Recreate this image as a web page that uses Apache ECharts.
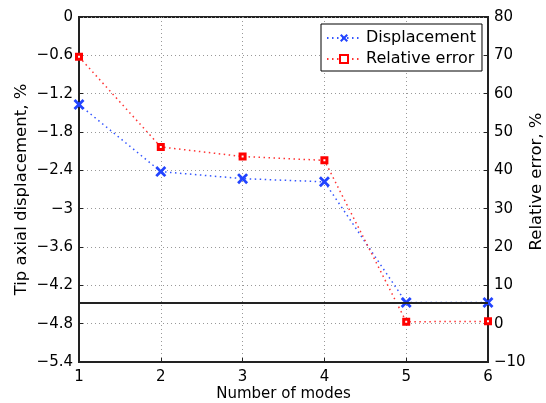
<!DOCTYPE html>
<html><head><meta charset="utf-8">
<script src="https://cdn.jsdelivr.net/npm/echarts@6/dist/echarts.min.js"></script>
<style>html,body{margin:0;padding:0;background:#fff}#c{width:546px;height:403px}</style>
</head><body><div id="c"></div>
<script>
const modes = [1, 2, 3, 4, 5, 6];
const displacement = [-1.37, -2.42, -2.53, -2.58, -4.47, -4.47];
const relativeError = [69.6, 46.1, 43.6, 42.6, 0.5, 0.6];
const referenceDisp = -4.48;
const leftTicks = {min: -5.4, max: 0, interval: 0.6};
const rightTicks = {min: -10, max: 80, interval: 10};

const FONT = 'DejaVu Sans';
const xPath = 'path://M0,1.8L1.8,0L5,3.2L8.2,0L10,1.8L6.8,5L10,8.2L8.2,10L5,6.8L1.8,10L0,8.2L3.2,5Z';
const fmt = v => {
  let s = (Math.round(v * 100) / 100).toString();
  return s.replace('-', '\u2212');
};
const chart = echarts.init(document.getElementById('c'), null, {renderer: 'canvas'});
const axisCommon = {
  axisLine: {show: true, onZero: false, lineStyle: {color: '#222', width: 2}},
  axisTick: {show: true, inside: true, length: 4, lineStyle: {color: '#222'}},
  axisLabel: {color: '#000', fontFamily: FONT, fontSize: 15, formatter: fmt},
  nameTextStyle: {color: '#000', fontFamily: FONT, fontSize: 15},
  nameMoveOverlap: false
};
chart.setOption({
  animation: false,
  backgroundColor: '#fff',
  grid: {left: 79, right: 58, top: 17, bottom: 41, containLabel: false, outerBoundsMode: 'none',
    show: true, borderColor: '#222', borderWidth: 2, backgroundColor: 'transparent'},
  legend: {
    left: 321, top: 24, width: 140, orient: 'vertical',
    backgroundColor: '#fff', borderColor: '#000', borderWidth: 1, borderRadius: 0,
    padding: [6, 6, 4, 5], itemGap: 5, itemWidth: 34, itemHeight: 10,
    textStyle: {fontFamily: FONT, fontSize: 16, color: '#000', padding: [0, 0, 0, 0]},
    data: ['Displacement', 'Relative error']
  },
  xAxis: Object.assign({}, axisCommon, {
    type: 'value', min: 1, max: 6, interval: 1,
    name: 'Number of modes', nameLocation: 'middle', nameGap: 25,
    axisLabel: Object.assign({}, axisCommon.axisLabel, {margin: 8}),
    splitLine: {show: true, lineStyle: {color: '#999', type: [1, 3], width: 1}}
  }),
  yAxis: [
    Object.assign({}, axisCommon, {
      type: 'value', min: leftTicks.min, max: leftTicks.max, interval: leftTicks.interval,
      name: 'Tip axial displacement, %', nameLocation: 'middle', nameGap: 49, nameRotate: 90,
      nameTextStyle: {color: '#000', fontFamily: FONT, fontSize: 16.5},
      axisLabel: Object.assign({}, axisCommon.axisLabel, {margin: 6}),
      splitLine: {show: true, lineStyle: {color: '#999', type: [1, 3], width: 1}}
    }),
    Object.assign({}, axisCommon, {
      type: 'value', position: 'right', min: rightTicks.min, max: rightTicks.max, interval: rightTicks.interval,
      name: 'Relative error, %', nameLocation: 'middle', nameGap: 40, nameRotate: 90,
      nameTextStyle: {color: '#000', fontFamily: FONT, fontSize: 16.5, padding: [0, 0, 0, 16]},
      axisLabel: Object.assign({}, axisCommon.axisLabel, {margin: 6}),
      splitLine: {show: false}
    })
  ],
  series: [
    {
      name: 'Displacement', type: 'line', yAxisIndex: 0,
      data: modes.map((m, i) => [m, displacement[i]]),
      symbol: xPath, symbolSize: 11, showAllSymbol: true,
      lineStyle: {color: '#3355ff', width: 1.5, type: [1.5, 3.5]},
      itemStyle: {color: '#2244ff'},
      markLine: {
        silent: true, symbol: 'none', label: {show: false},
        lineStyle: {color: '#222', width: 2, type: 'solid'},
        data: [{yAxis: referenceDisp}]
      },
      z: 3
    },
    {
      name: 'Relative error', type: 'line', yAxisIndex: 1,
      data: modes.map((m, i) => [m, relativeError[i]]),
      symbol: 'rect', symbolSize: 5, showAllSymbol: true,
      lineStyle: {color: '#ff3333', width: 1.5, type: [1.5, 3.5]},
      itemStyle: {color: '#fff', borderColor: '#ff0000', borderWidth: 3},
      z: 3
    }
  ]
});
</script></body></html>
